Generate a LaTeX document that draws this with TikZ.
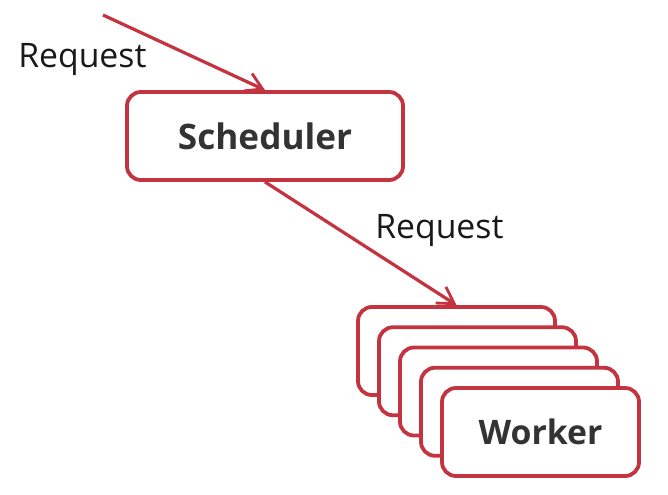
\documentclass[tikz,border=0pt]{standalone}
\usepackage{fontspec}
\setmainfont{Open Sans}
\usetikzlibrary{positioning, arrows.meta, shadows}

\definecolor{boxred}{RGB}{196,52,64}
\definecolor{textgray}{RGB}{51,51,51}

\begin{document}
\begin{tikzpicture}[
    x=0.025cm, y=-0.025cm,
    box/.style={draw=boxred, line width=2.7pt, rounded corners=0.35cm, fill=white,
      minimum height=2.2cm, align=center, font=\fontsize{25pt}{28pt}\selectfont\bfseries, text=textgray,
      drop shadow={opacity=0.22, shadow xshift=0.8pt, shadow yshift=-0.8pt}},
    sched_box/.style={box, minimum width=6.9cm},
    worker_box/.style={box, minimum width=4.925cm},
    arrow/.style={-{Straight Barb[length=4mm, width=4.8mm, line width=2pt]}, draw=boxred, line width=2.3pt},
    label/.style={font=\fontsize{24pt}{27pt}\selectfont, text=black!90, inner sep=0pt, anchor=base west}
  ]
  \useasboundingbox (0,0) rectangle (668,494);

  % Scheduler
  \node[sched_box] (sched) at (265,136) {Scheduler};

  % Worker stack, back to front
  \foreach \i in {1,...,4}
    \node[worker_box] (w\i) at ({456.5+21*(\i-1)}, {351+20.25*(\i-1)}) {};
  \node[worker_box, font=\fontsize{24pt}{27pt}\selectfont\bfseries] (w5) at (540.5,432) {Worker};

  % incoming request
  \coordinate (src) at (103,15);
  \draw[arrow] (src) -- (sched.north);
  \node[label] (req_in) at (18,67) {Request};

  % scheduler to workers
  \draw[arrow] (sched.south) -- (w1.north);
  \node[label] (req_out) at (375,238) {Request};
\end{tikzpicture}
\end{document}
